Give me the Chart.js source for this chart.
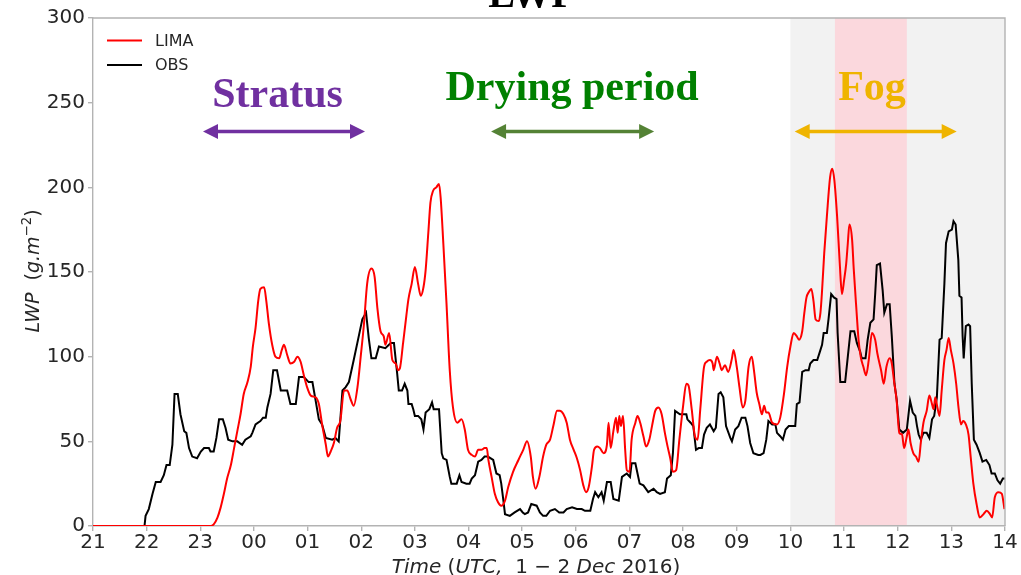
<!DOCTYPE html>
<html>
<head>
<meta charset="utf-8">
<script src="https://cdn.jsdelivr.net/npm/chart.js@4.4.1/dist/chart.umd.min.js"></script>
<style>
  html, body { margin: 0; padding: 0; background: #fff; }
  #wrap { width: 1021px; height: 575px; }
</style>
</head>
<body>
<div id="wrap"><canvas id="c" width="1021" height="575"></canvas></div>
<script>
// Time axis: hours elapsed since 21 UTC, 1 Dec 2016 (0 = 21 UTC, 17 = 14 UTC)
const hourLabels = ['21','22','23','00','01','02','03','04','05','06','07','08','09','10','11','12','13','14'];

// LIMA simulated liquid water path (g m-2)
const limaHours = [0,2.19,2.25,2.32,2.38,2.44,2.50,2.57,2.63,2.69,2.75,2.81,2.88,2.94,2.98,3.03,3.08,3.12,3.19,3.23,3.28,3.34,3.40,3.47,3.52,3.56,3.62,3.68,3.75,3.81,3.87,3.93,3.99,4.06,4.15,4.21,4.27,4.34,4.38,4.43,4.49,4.55,4.61,4.68,4.74,4.80,4.86,4.93,4.99,5.05,5.11,5.19,5.25,5.30,5.36,5.42,5.45,5.52,5.58,5.64,5.69,5.72,5.78,5.84,5.88,5.94,6.00,6.06,6.11,6.16,6.20,6.25,6.29,6.34,6.40,6.45,6.48,6.53,6.59,6.65,6.71,6.79,6.87,6.93,6.99,7.06,7.12,7.18,7.24,7.30,7.34,7.37,7.43,7.49,7.55,7.61,7.68,7.74,7.83,7.93,8.02,8.09,8.16,8.20,8.25,8.32,8.39,8.45,8.52,8.58,8.65,8.70,8.77,8.83,8.89,8.96,9.02,9.08,9.14,9.19,9.24,9.30,9.34,9.40,9.45,9.52,9.58,9.61,9.65,9.70,9.75,9.78,9.81,9.84,9.88,9.92,9.95,10.00,10.04,10.11,10.15,10.20,10.26,10.31,10.37,10.42,10.48,10.54,10.60,10.66,10.71,10.76,10.81,10.87,10.93,11.00,11.06,11.10,11.16,11.22,11.27,11.32,11.39,11.44,11.50,11.55,11.57,11.63,11.68,11.72,11.78,11.84,11.91,11.94,12.00,12.05,12.11,12.16,12.22,12.28,12.32,12.37,12.42,12.47,12.51,12.55,12.59,12.66,12.75,12.81,12.88,12.94,13.00,13.06,13.12,13.16,13.22,13.26,13.30,13.34,13.39,13.43,13.47,13.53,13.56,13.59,13.63,13.68,13.74,13.78,13.82,13.87,13.92,13.96,14.00,14.04,14.07,14.10,14.15,14.18,14.23,14.27,14.31,14.36,14.41,14.46,14.52,14.58,14.62,14.69,14.74,14.79,14.85,14.89,14.93,14.98,15.03,15.08,15.12,15.17,15.20,15.24,15.29,15.34,15.39,15.43,15.48,15.54,15.59,15.64,15.67,15.70,15.74,15.78,15.82,15.87,15.91,15.95,15.99,16.04,16.09,16.13,16.18,16.22,16.27,16.32,16.36,16.41,16.47,16.53,16.60,16.66,16.72,16.76,16.81,16.88,16.94,16.99];
const limaLWP = [0,0,1,5,11,19,28,36,46,56,66,78,85,94,106,117,133,140,141,133,119,107,100,99,104,107,101,96,97,100,97,89,82,77,76,72,60,48,41,44,49,58,62,80,80,75,71,82,100,119,143,152,147,129,115,112,107,114,98,96,92,93,108,124,134,143,153,143,136,141,151,173,191,198,200,202,194,167,131,92,70,61,63,57,45,42,41,45,45,46,46,39,29,19,14,12,15,23,32,39,45,50,41,29,22,29,41,48,51,59,68,68,66,61,51,45,40,33,24,20,23,35,45,47,46,43,48,61,46,56,64,55,65,59,65,45,33,32,51,61,65,61,53,47,51,59,68,70,66,55,47,40,32,33,51,71,84,83,69,53,51,69,94,97,98,96,92,100,96,92,95,91,99,104,94,82,70,74,94,100,92,79,72,66,71,67,67,61,60,64,78,94,106,114,112,110,115,126,135,138,140,133,122,121,126,139,161,183,206,211,204,183,155,137,145,155,167,178,169,152,128,110,100,94,89,98,114,110,102,92,84,94,99,96,86,74,55,54,46,53,57,49,43,41,38,49,61,68,77,72,69,76,70,65,80,98,104,111,104,96,84,71,60,62,60,54,41,25,13,5,7,9,7,5,17,20,19,10];

// Observed liquid water path (g m-2)
const obsHours = [0,0.96,0.98,1.04,1.11,1.17,1.26,1.32,1.37,1.43,1.48,1.52,1.58,1.63,1.70,1.74,1.79,1.85,1.94,2.01,2.07,2.16,2.19,2.25,2.30,2.35,2.42,2.47,2.52,2.60,2.69,2.78,2.84,2.94,2.97,3.03,3.12,3.17,3.22,3.25,3.31,3.36,3.43,3.50,3.62,3.68,3.78,3.84,3.93,4.02,4.09,4.15,4.21,4.27,4.34,4.46,4.52,4.58,4.65,4.71,4.77,4.86,4.96,5.02,5.09,5.14,5.19,5.27,5.33,5.45,5.55,5.61,5.67,5.70,5.76,5.81,5.86,5.88,5.94,5.97,6.00,6.06,6.12,6.16,6.20,6.27,6.32,6.35,6.45,6.50,6.53,6.59,6.65,6.68,6.78,6.83,6.87,6.96,7.02,7.06,7.12,7.18,7.24,7.30,7.36,7.46,7.52,7.58,7.61,7.65,7.68,7.77,7.86,7.96,8.01,8.05,8.11,8.17,8.27,8.33,8.39,8.45,8.52,8.61,8.69,8.77,8.83,8.93,9.02,9.11,9.17,9.27,9.32,9.36,9.42,9.48,9.52,9.58,9.65,9.70,9.80,9.86,9.95,10.01,10.04,10.11,10.15,10.19,10.26,10.35,10.45,10.51,10.57,10.66,10.70,10.77,10.81,10.85,10.94,11.06,11.08,11.14,11.19,11.24,11.29,11.35,11.39,11.44,11.50,11.57,11.61,11.66,11.70,11.75,11.80,11.88,11.91,11.97,12.03,12.09,12.16,12.20,12.25,12.31,12.40,12.44,12.50,12.55,12.59,12.66,12.72,12.75,12.81,12.86,12.91,12.97,13.09,13.12,13.17,13.22,13.28,13.34,13.37,13.43,13.50,13.55,13.59,13.62,13.68,13.71,13.76,13.81,13.86,13.88,13.93,14.02,14.07,14.12,14.19,14.24,14.30,14.33,14.40,14.44,14.49,14.55,14.58,14.61,14.67,14.72,14.75,14.80,14.85,14.89,14.94,14.98,15.03,15.10,15.17,15.23,15.28,15.33,15.36,15.39,15.43,15.48,15.54,15.59,15.64,15.68,15.73,15.78,15.82,15.87,15.90,15.95,16.01,16.04,16.08,16.13,16.15,16.19,16.21,16.23,16.27,16.32,16.35,16.38,16.42,16.47,16.53,16.58,16.65,16.71,16.75,16.81,16.86,16.91,16.96,17.00];
const obsLWP = [0,0,6,10,19,26,26,30,36,36,48,78,78,66,56,55,46,41,40,44,46,46,44,44,52,63,63,58,51,50,50,48,51,53,55,60,62,64,64,70,78,92,92,80,80,72,72,88,88,85,85,74,63,60,52,51,52,50,80,82,85,98,113,122,126,111,99,99,106,105,108,108,90,80,80,84,80,72,72,69,65,65,63,57,67,69,73,69,69,43,40,39,29,25,25,30,26,25,25,28,30,38,39,41,41,39,31,30,25,15,7,6,8,10,8,7,8,13,12,8,6,6,9,10,8,8,10,11,10,10,9,9,16,20,17,20,15,26,26,16,15,29,31,29,37,37,31,25,24,20,22,20,19,20,28,30,43,68,66,66,63,61,59,45,46,46,54,58,60,56,58,78,79,76,59,52,50,57,59,64,64,59,49,43,42,42,43,51,62,60,60,55,53,51,57,59,59,72,73,91,92,92,96,98,98,103,107,114,114,122,137,135,134,114,85,85,100,115,115,108,103,99,99,110,120,122,137,154,155,139,126,131,131,112,84,75,57,55,57,74,67,65,59,54,51,55,55,52,63,65,76,110,111,143,167,174,175,180,178,157,136,135,112,99,118,119,118,84,51,48,43,38,39,36,31,31,27,25,28,28];

// Shaded periods (hours since 21 UTC): fog episode 10-14 UTC, dense fog inside it
const fogSpan = [13, 17];
const denseFogSpan = [13.83, 15.17];

// Period annotations: arrow extent, label centre and label baseline in data units
const periodNames = ['Stratus', 'Drying period', 'Fog'];
const periodFrom = [2.05, 7.42, 13.08];
const periodTo = [5.07, 10.46, 16.10];
const periodLabelX = [3.44, 8.93, 14.52];
const periodLabelY = [247.5, 251.5, 251.5];
const periodArrowY = 233;
const periodTextColors = ['#7030a0', '#008000', '#efb400'];
const periodArrowColors = ['#7030a0', '#548235', '#efb400'];

const SPINE = '#b3b3b3';
const INK = '#262626';
const SANS = '"DejaVu Sans", sans-serif';
const SERIF = '"Liberation Serif", "DejaVu Serif", serif';

const toXY = (xs, ys) => xs.map((x, i) => ({ x: x, y: ys[i] }));

function runsWidth(ctx, runs, size) {
  let w = 0;
  for (const r of runs) {
    const s = r.sup ? size * 0.7 : size;
    ctx.font = (r.it ? 'italic ' : '') + s + 'px ' + SANS;
    w += ctx.measureText(r.t).width;
  }
  return w;
}
function drawRuns(ctx, runs, x, y, size) {
  ctx.textAlign = 'left';
  ctx.textBaseline = 'alphabetic';
  for (const r of runs) {
    const s = r.sup ? size * 0.7 : size;
    ctx.font = (r.it ? 'italic ' : '') + s + 'px ' + SANS;
    ctx.fillText(r.t, x, r.sup ? y - size * 0.42 : y);
    x += ctx.measureText(r.t).width;
  }
}

function doubleArrow(ctx, x1, x2, y, color) {
  const head = 15, half = 7.5;
  ctx.save();
  ctx.strokeStyle = color;
  ctx.fillStyle = color;
  ctx.lineWidth = 3.6;
  ctx.beginPath();
  ctx.moveTo(x1 + head - 2, y);
  ctx.lineTo(x2 - head + 2, y);
  ctx.stroke();
  ctx.beginPath();
  ctx.moveTo(x1, y); ctx.lineTo(x1 + head, y - half); ctx.lineTo(x1 + head, y + half); ctx.closePath();
  ctx.fill();
  ctx.beginPath();
  ctx.moveTo(x2, y); ctx.lineTo(x2 - head, y - half); ctx.lineTo(x2 - head, y + half); ctx.closePath();
  ctx.fill();
  ctx.restore();
}

const decorations = {
  id: 'decorations',
  beforeDraw(chart) {
    const { ctx, chartArea: a, scales: { x } } = chart;
    ctx.save();
    ctx.fillStyle = '#f2f2f2';
    let x0 = x.getPixelForValue(fogSpan[0]), x1 = x.getPixelForValue(fogSpan[1]);
    ctx.fillRect(x0, a.top, x1 - x0, a.bottom - a.top);
    ctx.fillStyle = '#fbd8dd';
    x0 = x.getPixelForValue(denseFogSpan[0]); x1 = x.getPixelForValue(denseFogSpan[1]);
    ctx.fillRect(x0, a.top, x1 - x0, a.bottom - a.top);
    ctx.restore();
  },
  afterDraw(chart) {
    const { ctx, chartArea: a, scales: { x, y } } = chart;
    ctx.save();

    // top and right frame lines
    ctx.strokeStyle = SPINE;
    ctx.lineWidth = 1.4;
    ctx.beginPath();
    ctx.moveTo(a.left, a.top); ctx.lineTo(a.right, a.top); ctx.lineTo(a.right, a.bottom);
    ctx.stroke();

    // title
    ctx.fillStyle = '#000';
    ctx.font = 'bold 40px ' + SERIF;
    ctx.textAlign = 'center';
    ctx.textBaseline = 'alphabetic';
    ctx.fillText('LWP', 532, 7);

    // legend
    const legend = [['LIMA', '#ff0000'], ['OBS', '#000000']];
    legend.forEach((item, i) => {
      const ly = 40.5 + i * 24.5;
      ctx.strokeStyle = item[1];
      ctx.lineWidth = 2;
      ctx.beginPath(); ctx.moveTo(107, ly); ctx.lineTo(142, ly); ctx.stroke();
      ctx.fillStyle = INK;
      ctx.font = '16px ' + SANS;
      ctx.textAlign = 'left';
      ctx.textBaseline = 'middle';
      ctx.fillText(item[0], 155, ly + 1);
    });

    // period labels and arrows
    periodNames.forEach((name, i) => {
      ctx.fillStyle = periodTextColors[i];
      ctx.font = 'bold 42px ' + SERIF;
      ctx.textAlign = 'center';
      ctx.textBaseline = 'alphabetic';
      ctx.fillText(name, x.getPixelForValue(periodLabelX[i]), y.getPixelForValue(periodLabelY[i]));
      doubleArrow(ctx, x.getPixelForValue(periodFrom[i]), x.getPixelForValue(periodTo[i]),
                  y.getPixelForValue(periodArrowY), periodArrowColors[i]);
    });

    // x axis title
    ctx.fillStyle = INK;
    const xRuns = [{ t: 'Time', it: true }, { t: ' (' }, { t: 'UTC,', it: true }, { t: '  1 \u2212 2 ' }, { t: 'Dec', it: true }, { t: ' 2016)' }];
    const xs = 20;
    const xw = runsWidth(ctx, xRuns, xs);
    drawRuns(ctx, xRuns, 536 - xw / 2, 573, xs);

    // y axis title
    const yRuns = [{ t: 'LWP', it: true }, { t: '  (' }, { t: 'g.m', it: true }, { t: '\u22122', it: false, sup: true }, { t: ')' }];
    const ys = 19;
    const yw = runsWidth(ctx, yRuns, ys);
    ctx.translate(39, 271);
    ctx.rotate(-Math.PI / 2);
    drawRuns(ctx, yRuns, -yw / 2, 0, ys);

    ctx.restore();
  }
};

new Chart(document.getElementById('c'), {
  type: 'line',
  data: {
    datasets: [
      {
        label: 'LIMA',
        data: toXY(limaHours, limaLWP),
        borderColor: '#ff0000',
        borderWidth: 2,
        pointRadius: 0,
        cubicInterpolationMode: 'monotone',
        fill: false
      },
      {
        label: 'OBS',
        data: toXY(obsHours, obsLWP),
        borderColor: '#000000',
        borderWidth: 2,
        pointRadius: 0,
        tension: 0,
        fill: false
      }
    ]
  },
  options: {
    responsive: false,
    devicePixelRatio: 1,
    animation: false,
    events: [],
    layout: { autoPadding: false, padding: { top: 18, right: 16, bottom: 0, left: 0 } },
    plugins: { legend: { display: false }, title: { display: false }, tooltip: { enabled: false } },
    scales: {
      x: {
        type: 'linear',
        min: 0,
        max: 17,
        afterFit: s => { s.height = 49; },
        border: { display: true, color: SPINE, width: 1.4 },
        grid: { drawOnChartArea: false, drawTicks: true, tickLength: 5, color: SPINE, lineWidth: 1.4 },
        ticks: {
          stepSize: 1,
          autoSkip: false,
          maxRotation: 0,
          padding: 0,
          color: INK,
          font: { family: SANS, size: 20 },
          callback: v => hourLabels[v]
        }
      },
      y: {
        min: 0,
        max: 300,
        afterFit: s => { s.width = 93; },
        border: { display: true, color: SPINE, width: 1.4 },
        grid: { drawOnChartArea: false, drawTicks: true, tickLength: 5, color: SPINE, lineWidth: 1.4 },
        ticks: {
          stepSize: 50,
          padding: 3,
          color: INK,
          font: { family: SANS, size: 20 }
        }
      }
    }
  },
  plugins: [decorations]
});
</script>
</body>
</html>
